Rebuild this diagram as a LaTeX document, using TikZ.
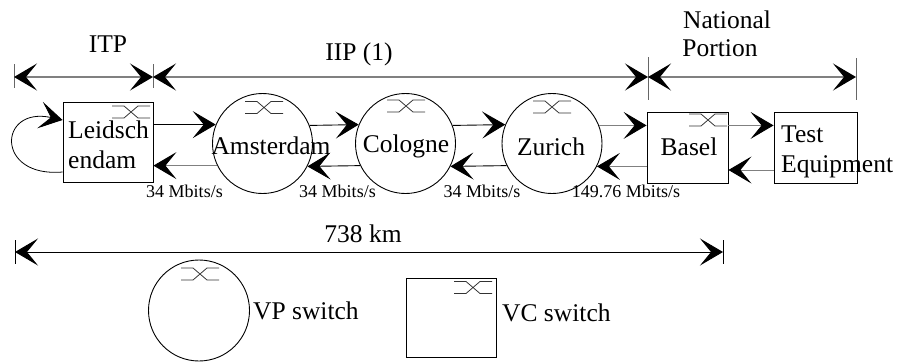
\documentclass[tikz,border=0pt]{standalone}
\usepackage{fontspec}
\setmainfont{Liberation Serif}
\usetikzlibrary{arrows.meta,calc}
\begin{document}
\begin{tikzpicture}[x=1pt,y=-1pt,
  big/.style={font=\fontsize{25.5}{28}\selectfont, inner sep=0pt},
  small/.style={font=\fontsize{18}{20}\selectfont, inner sep=0pt},
  circ/.style={draw, circle, minimum size=100pt, inner sep=0pt, line width=0.9pt},
  box/.style={draw, rectangle, inner sep=0pt, line width=0.9pt},
  tip/.style={arrows={-Stealth[length=23pt,width=27pt,inset=11pt,color=black]}},
  dtip/.style={arrows={Stealth[length=23pt,width=27pt,inset=11pt,color=black]-Stealth[length=23pt,width=27pt,inset=11pt,color=black]}},
  conn/.style={tip, line width=0.9pt, black},
  conng/.style={tip, line width=0.9pt, gray},
  dim/.style={dtip, line width=1.2pt, gray},
  dimk/.style={dtip, line width=0.9pt, black},
  tickg/.style={line width=1pt, gray!80!black},
  tickk/.style={line width=1pt, black},
  swline/.style={line width=0.8pt, black!80},
  sw/.pic={\draw[swline] (-19,-6) -- (-7,-6) -- (7,6) -- (19,6)
                         (-19,6) -- (-7,6) -- (7,-6) -- (19,-6);}
]
\useasboundingbox (0,0) rectangle (898,362);

% dimension line at top
\coordinate (d0) at (14,77);
\coordinate (d1) at (153,77);
\coordinate (d2) at (648,77);
\coordinate (d3) at (856,77);
\draw[tickg] ($(d0)+(0,-13)$) -- ($(d0)+(0,11)$);
\draw[tickg] ($(d1)+(0,-13)$) -- ($(d1)+(0,11)$);
\draw[tickg] ($(d2)+(0,-20)$) -- ($(d2)+(0,23)$);
\draw[tickg] ($(d3)+(0,-19)$) -- ($(d3)+(0,23)$);
\draw[dim] (d0) -- (d1);
\draw[dim] (d1) -- (d2);
\draw[dim] (d2) -- (d3);
\node[big, anchor=base] (litp) at (108,52) {ITP};
\node[big, anchor=base] (liip) at (359,60) {IIP (1)};
\node[big, anchor=base] (lnat) at (727,28) {National};
\node[big, anchor=base] (lpor) at (720,56) {Portion};

% nodes
\node[box, minimum width=90pt, minimum height=80pt] (leid) at (108,142) {};
\node[circ] (ams) at (262.5,143.5) {};
\node[circ] (col) at (405.5,143.5) {};
\node[circ] (zur) at (552,143.5) {};
\node[box, minimum width=81pt, minimum height=71pt] (basel) at (687.5,147.5) {};
\node[box, minimum width=83pt, minimum height=71pt] (test) at (815.5,147.5) {};

\pic at (131,112) {sw};
\pic at (264,107.5) {sw};
\pic at (406,106) {sw};
\pic at (552,107) {sw};
\pic at (708,120) {sw};

\node[big, anchor=base west] (tleid1) at (68,138) {Leidsch};
\node[big, anchor=base west] (tleid2) at (68,168) {endam};
\node[big, anchor=base] (tams) at (271,154) {Amsterdam};
\node[big, anchor=base] (tcol) at (406,152) {Cologne};
\node[big, anchor=base] (tzur) at (551,155) {Zurich};
\node[big, anchor=base] (tbas) at (689,155) {Basel};
\node[big, anchor=base west] (ttest1) at (781,142) {Test};
\node[big, anchor=base west] (ttest2) at (781,172) {Equipment};

% upper row (rightward)
\draw[conn] (leid.east |- ams.158.3) -- (ams.158.3);
\draw[conn] (ams.21.7) -- (col.158.3);
\draw[conn] (col.21.7) -- (zur.158.3);
\draw[conng] (zur.21.7) -- (basel.west |- zur.21.7);
\draw[conng] (basel.east |- zur.21.7) -- (test.west |- zur.21.7);
% lower row (leftward)
\draw[conng] (ams.206.7) -- (leid.east |- ams.206.7);
\draw[conn] (col.206.7) -- (ams.333.3);
\draw[conn] (zur.206.7) -- (col.333.3);
\draw[conng] (basel.west |- zur.333.3) -- (zur.333.3);
\coordinate (tb) at ($(test.west)+(0,22.5)$);
\draw[conng] (tb) -- (basel.east |- tb);

% loop on Leidschendam
\coordinate (ls) at ($(leid.west)+(0,30)$);
\coordinate (le) at ($(leid.west)+(0,-22)$);
\draw[conn, line width=0.8pt] (ls) .. controls (-5,178) and (-2,106) .. (le);

% rate labels
\node[small, anchor=base] (r1) at (184.5,197) {34 Mbits/s};
\node[small, anchor=base] (r2) at (337.5,197) {34 Mbits/s};
\node[small, anchor=base] (r3) at (482,197) {34 Mbits/s};
\node[small, anchor=base] (r4) at (626,197) {149.76 Mbits/s};

% 738 km
\coordinate (k0) at (15,252);
\coordinate (k1) at (723,252);
\draw[tickk] ($(k0)+(0,-12)$) -- ($(k0)+(0,12)$);
\draw[tickk] ($(k1)+(0,-12)$) -- ($(k1)+(0,12)$);
\draw[dimk] (k0) -- (k1);
\node[big, anchor=base] (lkm) at (363,242) {738 km};

% legend
\node[circ, minimum size=101pt] (vp) at (199,310.5) {};
\pic at (200,274) {sw};
\node[big, anchor=base west] (lvp) at (253,319) {VP switch};
\node[box, minimum width=90pt, minimum height=79pt] (vc) at (451,317.5) {};
\pic at (473,287.5) {sw};
\node[big, anchor=base west] (lvc) at (502,321) {VC switch};
\end{tikzpicture}
\end{document}
